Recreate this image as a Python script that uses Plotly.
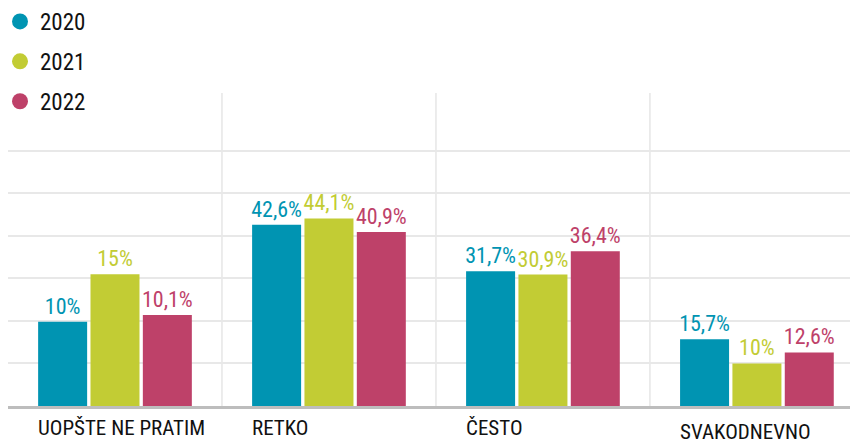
import plotly.graph_objects as go

# categories and series
categories = ["UOPŠTE NE PRATIM", "RETKO", "ČESTO", "SVAKODNEVNO"]
years = ["2020", "2021", "2022"]

# bar heights as drawn in the picture (percent)
values_2020 = [19.8, 42.6, 31.7, 15.7]
values_2021 = [31.0, 44.1, 30.9, 10.0]
values_2022 = [21.4, 40.9, 36.4, 12.6]

# printed labels above bars
labels_2020 = ["10%", "42,6%", "31,7%", "15,7%"]
labels_2021 = ["15%", "44,1%", "30,9%", "10%"]
labels_2022 = ["10,1%", "40,9%", "36,4%", "12,6%"]

grid_vals = [10, 20, 30, 40, 50, 60]

colors = ["#0094b2", "#c2cc34", "#be4169"]
FONT = ("Noto Sans ExtraCondensed, Noto Sans Condensed, Roboto Condensed, "
        "Liberation Sans Narrow, DejaVu Sans Condensed, Roboto, sans-serif")

series = [
    (values_2020, labels_2020),
    (values_2021, labels_2021),
    (values_2022, labels_2022),
]

fig = go.Figure()

for (vals, labs), year, color in zip(series, years, colors):
    # bars
    fig.add_trace(
        go.Bar(
            x=categories,
            y=vals,
            name=year,
            marker=dict(color=color, line=dict(width=0)),
            text=labs,
            textposition="outside",
            textfont=dict(family=FONT, size=22, color=color),
            constraintext="none",
            cliponaxis=False,
            showlegend=False,
        )
    )
    # legend entry with round marker
    fig.add_trace(
        go.Scatter(
            x=[None],
            y=[None],
            mode="markers",
            name=year,
            legendgroup=year,
            marker=dict(color=color, size=16, symbol="circle"),
        )
    )

# vertical separators between category groups
for i in range(len(categories) - 1):
    fig.add_shape(
        type="line",
        xref="x",
        yref="paper",
        x0=i + 0.5,
        x1=i + 0.5,
        y0=0,
        y1=1,
        line=dict(color="#e6e6e6", width=1.5),
        layer="below",
    )

# category labels, left aligned at the start of each group
for i, cat in enumerate(categories):
    fig.add_annotation(
        x=cat,
        y=0,
        xref="x",
        yref="y",
        text=cat,
        showarrow=False,
        xanchor="left",
        yanchor="top",
        xshift=-79,
        yshift=-8 if i < len(categories) - 1 else -12,
        font=dict(family=FONT, size=21, color="#111111"),
    )

fig.update_layout(
    width=850,
    height=443,
    margin=dict(l=8, r=0, t=93, b=37, autoexpand=False),
    paper_bgcolor="white",
    plot_bgcolor="white",
    barmode="group",
    bargap=0.266,
    bargroupgap=0.064,
    font=dict(family=FONT, color="#111111"),
    legend=dict(
        x=0.0,
        y=1.0,
        xref="container",
        yref="container",
        xanchor="left",
        yanchor="top",
        font=dict(family=FONT, size=23, color="#111111"),
        tracegroupgap=7,
        itemsizing="trace",
        bgcolor="rgba(0,0,0,0)",
    ),
    xaxis=dict(
        range=[-0.5, 3.435],
        showticklabels=False,
        showgrid=False,
        showline=True,
        linecolor="#bdbdbd",
        linewidth=3,
        ticks="",
    ),
    yaxis=dict(
        range=[0, 73.6],
        tickvals=grid_vals,
        showticklabels=False,
        showgrid=True,
        gridcolor="#e8e8e8",
        gridwidth=1.5,
        zeroline=False,
        showline=False,
    ),
)

# drop the default page margin so the figure sits at the window corner
fig.write_html(
    "out.html",
    config={"displayModeBar": False},
    post_script="document.body.style.margin = '0px';",
)
